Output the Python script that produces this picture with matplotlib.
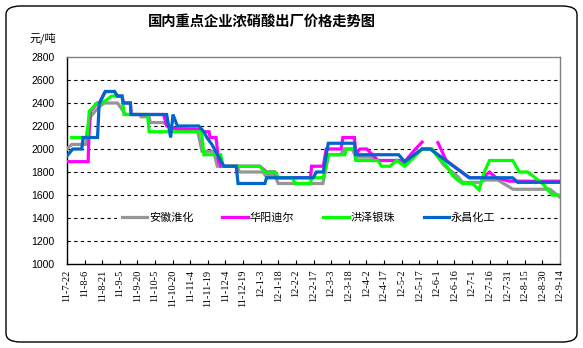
import numpy as np
import matplotlib
matplotlib.use("Agg")
import matplotlib.pyplot as plt
from matplotlib.patches import FancyBboxPatch

plt.rcParams['font.family'] = ['Noto Sans CJK SC', 'DejaVu Sans']

# x = days since 2011-07-22
tick_labels = ["11-7-22", "11-8-6", "11-8-21", "11-9-5", "11-9-20", "11-10-5", "11-10-20",
               "11-11-4", "11-11-19", "11-12-4", "11-12-19", "12-1-3", "12-1-18", "12-2-2",
               "12-2-17", "12-3-3", "12-3-18", "12-4-2", "12-4-17", "12-5-2", "12-5-17",
               "12-6-1", "12-6-16", "12-7-1", "12-7-16", "12-7-31", "12-8-15", "12-8-30", "12-9-14"]

anhui_x = [0, 4, 16, 17, 20, 24, 29, 32, 43, 50, 62, 63, 70, 71, 82, 89, 91, 111, 115, 125, 128,
           145, 147, 167, 169, 177, 180, 218, 223, 233, 236, 243, 246, 258, 265, 283, 288, 302.5,
           311, 321, 333, 337, 352, 356, 367, 380, 411.5, 420]
anhui_y = [2000, 2040, 2040, 2150, 2280, 2330, 2380, 2400, 2400, 2300, 2300, 2280, 2280, 2230, 2230,
           2190, 2180, 2170, 1980, 1980, 1850, 1850, 1800, 1800, 1770, 1770, 1700, 1700, 1950, 1950,
           2000, 2000, 1930, 1930, 1900, 1900, 1870, 2000, 2000, 1860, 1760, 1710, 1710, 1730, 1730,
           1650, 1650, 1580]

huayang_x = [0, 18, 18.6, 20, 26, 27.4, 32.6, 40.5, 42.9, 46.9, 48, 54, 54.6, 82.3, 85, 95, 114.6,
             116, 121, 122, 127, 129, 131, 164.3, 170, 177, 179, 207.5, 208.3, 218.3, 220.8, 233.4,
             235, 244.9, 246, 249.4, 255.4, 265, 282.6, 287.7, 296, 302.5, 309, 316, 323, 342.8,
             354, 360, 365.5, 377, 420]
huayang_y = [1890, 1890, 2100, 2330, 2400, 2400, 2500, 2500, 2460, 2460, 2400, 2400, 2300, 2300,
             2200, 2170, 2170, 2150, 2150, 2100, 2100, 1900, 1850, 1850, 1800, 1800, 1750, 1750, 1850,
             1850, 2000, 2000, 2100, 2100, 1950, 2000, 2000, 1900, 1900, 1890, 1990, 2060, np.nan,
             2055, 1900, 1750, 1750, 1800, 1750, 1720, 1720]

hongze_x = [4, 16, 17.1, 19, 22, 25.4, 30, 38, 46.9, 48.6, 68.6, 70, 114.6, 116.6, 130.9, 133, 164.3,
            168.6, 177.1, 179, 180, 192.5, 194, 207.5, 208.4, 218.3, 222.6, 236.5, 238, 244.9, 246,
            264.8, 268, 275.1, 281, 287.7, 302.5, 311, 317, 322.7, 328.5, 332.8, 337, 345.4, 351,
            355.5, 360, 379.7, 385.4, 392.6, 405, 413.5, 420]
hongze_y = [2100, 2100, 2100, 2330, 2360, 2400, 2400, 2460, 2460, 2300, 2300, 2150, 2150, 1950, 1950,
            1850, 1850, 1800, 1800, 1770, 1750, 1750, 1700, 1700, 1750, 1750, 1950, 1950, 2000, 2000,
            1900, 1900, 1850, 1850, 1900, 1850, 2000, 2000, 1920, 1860, 1770, 1730, 1700, 1700, 1645,
            1800, 1900, 1900, 1800, 1800, 1700, 1600, 1600]

yongchang_x = [0, 4.9, 12.6, 13.7, 26, 27.4, 32.6, 40.5, 42.9, 46.9, 48, 54, 54.6, 84.9, 88.3, 90.3,
               94, 112.3, 116.6, 119.1, 123.4, 126.6, 130.9, 133.7, 144.2, 145.7, 168.6, 170, 209.7,
               212.5, 218.3, 222.6, 244.9, 246, 282.6, 287.7, 302.5, 309.4, 342.8, 379.7, 384, 420]
yongchang_y = [1940, 2000, 2000, 2100, 2100, 2390, 2500, 2500, 2460, 2460, 2400, 2400, 2300, 2300,
               2100, 2300, 2200, 2200, 2150, 2100, 2040, 1980, 1900, 1850, 1850, 1700, 1700, 1750,
               1750, 1800, 1800, 2050, 2050, 1950, 1950, 1890, 2000, 2000, 1750, 1750, 1710, 1710]

series = [
    ("安徽淮化", anhui_x, anhui_y, "#969696"),
    ("华阳迪尔", huayang_x, huayang_y, "#FF00FF"),
    ("洪泽银珠", hongze_x, hongze_y, "#00FF00"),
    ("永昌化工", yongchang_x, yongchang_y, "#0066CC"),
]

W, H = 583, 348
fig = plt.figure(figsize=(W / 100, H / 100), dpi=100)
fig.patch.set_facecolor("white")

frame = FancyBboxPatch((6 / W, 6 / H), (W - 12) / W, (H - 12) / H,
                       boxstyle="round,pad=0,rounding_size=0.025",
                       transform=fig.transFigure, facecolor="none",
                       edgecolor="black", linewidth=1.0, zorder=10)
fig.patches.append(frame)

ax = fig.add_axes([67 / W, 1 - 264 / H, (560 - 67) / W, (264 - 57) / H])
ax.set_facecolor("white")

for yv in range(1200, 2800, 200):
    ax.axhline(yv, color="black", linewidth=0.8, linestyle=(0, (3, 3)), zorder=1)

handles = []
for name, xs, ys, col in series:
    h, = ax.plot(xs, ys, color=col, linewidth=2.3, label=name, zorder=3,
                 solid_joinstyle="miter")
    handles.append(h)

ax.set_xlim(0, 420)
ax.set_ylim(1000, 2800)
ax.set_yticks(range(1000, 2801, 200))
ax.set_yticklabels([str(v) for v in range(1000, 2801, 200)],
                   fontsize=7.5, family="Liberation Sans")
ax.set_xticks(np.arange(len(tick_labels)) * 15)
ax.set_xticklabels(tick_labels, rotation=90, fontsize=7.5, family="Liberation Serif")
ax.tick_params(axis="y", length=0, pad=9)
ax.tick_params(axis="x", direction="in", length=3, pad=4, width=0.8)

ax.spines["left"].set_color("black")
ax.spines["bottom"].set_color("black")
ax.spines["top"].set_color("#808080")
ax.spines["right"].set_color("#808080")
for s in ax.spines.values():
    s.set_linewidth(1.0)

leg = ax.legend(handles=handles, ncol=4, loc="center", bbox_to_anchor=(0.49, 0.222),
                frameon=True, fontsize=8, handlelength=2.3, handletextpad=0.15,
                columnspacing=2.6, borderpad=0.4, fancybox=False)
leg.get_frame().set_facecolor("white")
leg.get_frame().set_edgecolor("none")
leg.get_frame().set_alpha(1)
leg.set_zorder(5)

fig.text(262 / W, 1 - 22 / H, "国内重点企业浓硝酸出厂价格走势图", ha="center", va="center",
         fontsize=10.3, fontweight="bold")
fig.text(29 / W, 1 - 38 / H, "元/吨", ha="left", va="center", fontsize=8)

fig.savefig("out.png", dpi=100, facecolor="white")
